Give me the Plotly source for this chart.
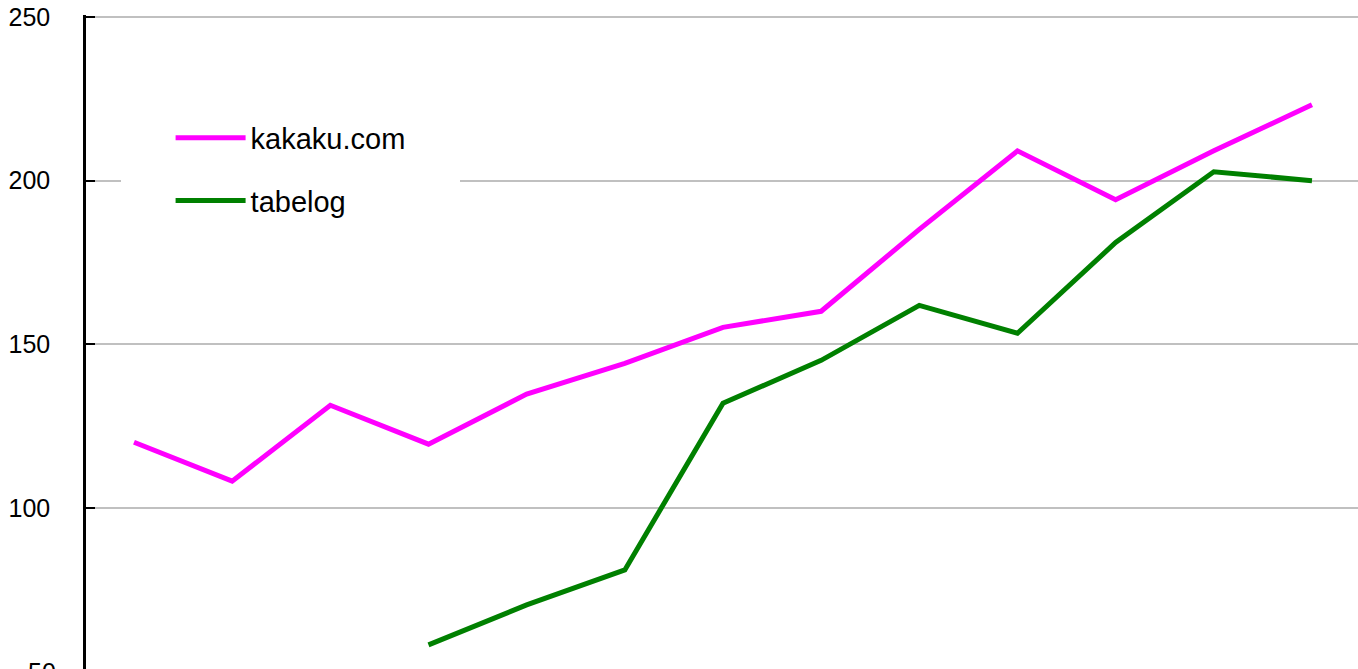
import plotly.graph_objects as go

periods = list(range(13))
kakaku = [120.1, 108.2, 131.4, 119.5, 134.8, 144.2, 155.2, 160.1, 185.1, 209.1, 194.2, 209.1, 223.2]
tabelog = [None, None, None, 58.2, 70.4, 81.1, 132.0, 145.1, 161.9, 153.4, 181.1, 202.7, 200.0]
y_ticks = [50, 100, 150, 200, 250]

FONT = "Liberation Sans, Arial, sans-serif"
Y_MIN, Y_MAX = 50.83, 250.6

fig = go.Figure()
fig.add_trace(go.Scatter(x=periods, y=kakaku, mode="lines", name="kakaku.com",
                         legendgroup="a",
                         line=dict(color="#ff00ff", width=5)))
fig.add_trace(go.Scatter(x=periods, y=tabelog, mode="lines", name="tabelog",
                         legendgroup="b",
                         line=dict(color="#008000", width=5)))

# plot area: page x 86..1358, y 15..669 (body margin removed below)
fig.update_layout(
    width=1358, height=669,
    margin=dict(l=86, r=0, t=15, b=0, autoexpand=False),
    paper_bgcolor="white", plot_bgcolor="white",
    font=dict(family=FONT, size=25, color="black"),
    showlegend=True,
    legend=dict(x=0.0665, y=0.851, xanchor="left", yanchor="top",
                bgcolor="white", borderwidth=0,
                font=dict(size=29), tracegroupgap=22,
                itemwidth=70),
    xaxis=dict(range=[-0.489, 12.469], showticklabels=False, showgrid=False,
               zeroline=False, showline=False, ticks="", automargin=False),
    yaxis=dict(range=[Y_MIN, Y_MAX], tickvals=y_ticks, showgrid=True,
               gridcolor="#c0c0c0", gridwidth=2, zeroline=False,
               showline=True, linecolor="black", linewidth=2.5,
               ticks="inside", ticklen=9, tickwidth=2, tickcolor="black",
               ticklabelstandoff=28, ticklabeloverflow="allow",
               automargin=False,
               tickfont=dict(size=25, family=FONT)),
    shapes=[dict(type="rect", xref="paper", yref="paper",
                 x0=(121 - 86) / 1272, x1=(460 - 86) / 1272,
                 y0=0.68, y1=0.85, fillcolor="white", line=dict(width=0),
                 layer="above")],
)
# the lowest tick (50) lies just below the visible range; place its label in paper units
y50_paper = (y_ticks[0] - Y_MIN) / (Y_MAX - Y_MIN)
fig.add_annotation(x=0, xref="paper", xanchor="right", xshift=-28,
                   y=y50_paper, yref="paper", yanchor="middle", text=str(y_ticks[0]),
                   showarrow=False, font=dict(size=25, family=FONT))

fig.write_html("out.html",
               config={"displayModeBar": False},
               post_script="document.body.style.margin='0';document.body.style.overflow='hidden';")
